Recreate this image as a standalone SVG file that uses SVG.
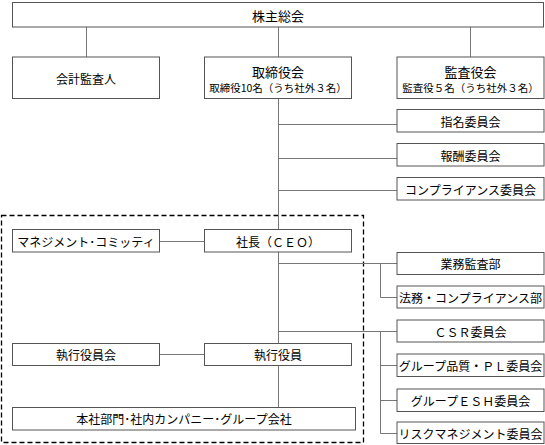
<svg xmlns="http://www.w3.org/2000/svg" width="545" height="445" viewBox="0 0 545 445">
<style>
.box{fill:#fff;stroke:#555;stroke-width:1}
.ln{stroke:#777;stroke-width:1;fill:none}
.t{font-family:"Noto Sans CJK JP","Noto Sans",sans-serif;font-size:12px;fill:#000;text-anchor:middle;dominant-baseline:central}
.s{font-size:10.5px}
.dash{fill:none;stroke:#000;stroke-width:1.3;stroke-dasharray:5,3}
</style>
<rect width="545" height="445" fill="#fff"/>
<rect class="dash" x="1.5" y="215.5" width="362" height="227"/>
<g id="connectors">
<path class="ln" d="M86.5 27V57M278.5 27V57M470.5 27V57"/>
<path class="ln" d="M278.5 98V229M278.5 124.5H397M278.5 158.5H397M278.5 190.5H397"/>
<path class="ln" d="M159 241.5H205"/>
<path class="ln" d="M278.5 252V343M278.5 263.5H397M380.5 263.5V297.5H397"/>
<path class="ln" d="M278.5 331.5H397M380.5 331.5V433.5H397M380.5 365.5H397M380.5 400.5H397"/>
<path class="ln" d="M159 354.5H205M278.5 366V407"/>
</g>
<g id="n-kabunushi"><rect class="box" x="12.5" y="2.5" width="531" height="24.5"/><text class="t" x="278" y="15" style="font-size:13px">株主総会</text></g>
<g id="n-kaikei"><rect class="box" x="12.5" y="57" width="147" height="41.5"/><text class="t" x="86" y="78">会計監査人</text></g>
<g id="n-torishimariyakukai"><rect class="box" x="204.5" y="57" width="147" height="41.5"/><text class="t" x="278" y="71" style="font-size:13px">取締役会</text><text class="t s" x="278" y="87">取締役10名（うち社外３名）</text></g>
<g id="n-kansayakukai"><rect class="box" x="397" y="57" width="147" height="41.5"/><text class="t" x="470.5" y="71" style="font-size:13px">監査役会</text><text class="t s" x="470.5" y="87">監査役５名（うち社外３名）</text></g>
<g id="n-shimei"><rect class="box" x="397" y="109.5" width="147" height="22.5"/><text class="t" x="470.5" y="121">指名委員会</text></g>
<g id="n-hoshu"><rect class="box" x="397" y="143.5" width="147" height="22.5"/><text class="t" x="470.5" y="155">報酬委員会</text></g>
<g id="n-compliance"><rect class="box" x="397" y="177.5" width="147" height="22.5"/><text class="t" x="470.5" y="189">コンプライアンス委員会</text></g>
<g id="n-management"><rect class="box" x="12.5" y="229.5" width="147" height="22.5"/><text class="t" x="86" y="241">マネジメント･コミッティ</text></g>
<g id="n-shacho"><rect class="box" x="204.5" y="229.5" width="147" height="22.5"/><text class="t" x="278" y="241">社長（ＣＥＯ）</text></g>
<g id="n-gyomu"><rect class="box" x="397" y="252.5" width="147" height="22"/><text class="t" x="470.5" y="263.5">業務監査部</text></g>
<g id="n-homu"><rect class="box" x="397" y="286" width="147" height="22"/><text class="t" x="470.5" y="297">法務・コンプライアンス部</text></g>
<g id="n-csr"><rect class="box" x="397" y="320" width="147" height="22"/><text class="t" x="470.5" y="331">ＣＳＲ委員会</text></g>
<g id="n-hinshitsu"><rect class="box" x="397" y="354" width="147" height="22.5"/><text class="t" x="470.5" y="365">グループ品質・ＰＬ委員会</text></g>
<g id="n-esh"><rect class="box" x="397" y="389" width="147" height="22.5"/><text class="t" x="470.5" y="400">グループＥＳＨ委員会</text></g>
<g id="n-risk"><rect class="box" x="397" y="422" width="147" height="21.5"/><text class="t" x="470.5" y="433">リスクマネジメント委員会</text></g>
<g id="n-shikkoyakuinkai"><rect class="box" x="12.5" y="343.5" width="147" height="22"/><text class="t" x="86" y="354.5">執行役員会</text></g>
<g id="n-shikkoyakuin"><rect class="box" x="204.5" y="343.5" width="147" height="22"/><text class="t" x="278" y="354.5">執行役員</text></g>
<g id="n-honsha"><rect class="box" x="12.5" y="407.5" width="343" height="22.5"/><text class="t" x="184" y="418.5">本社部門･社内カンパニー･グループ会社</text></g>
</svg>
